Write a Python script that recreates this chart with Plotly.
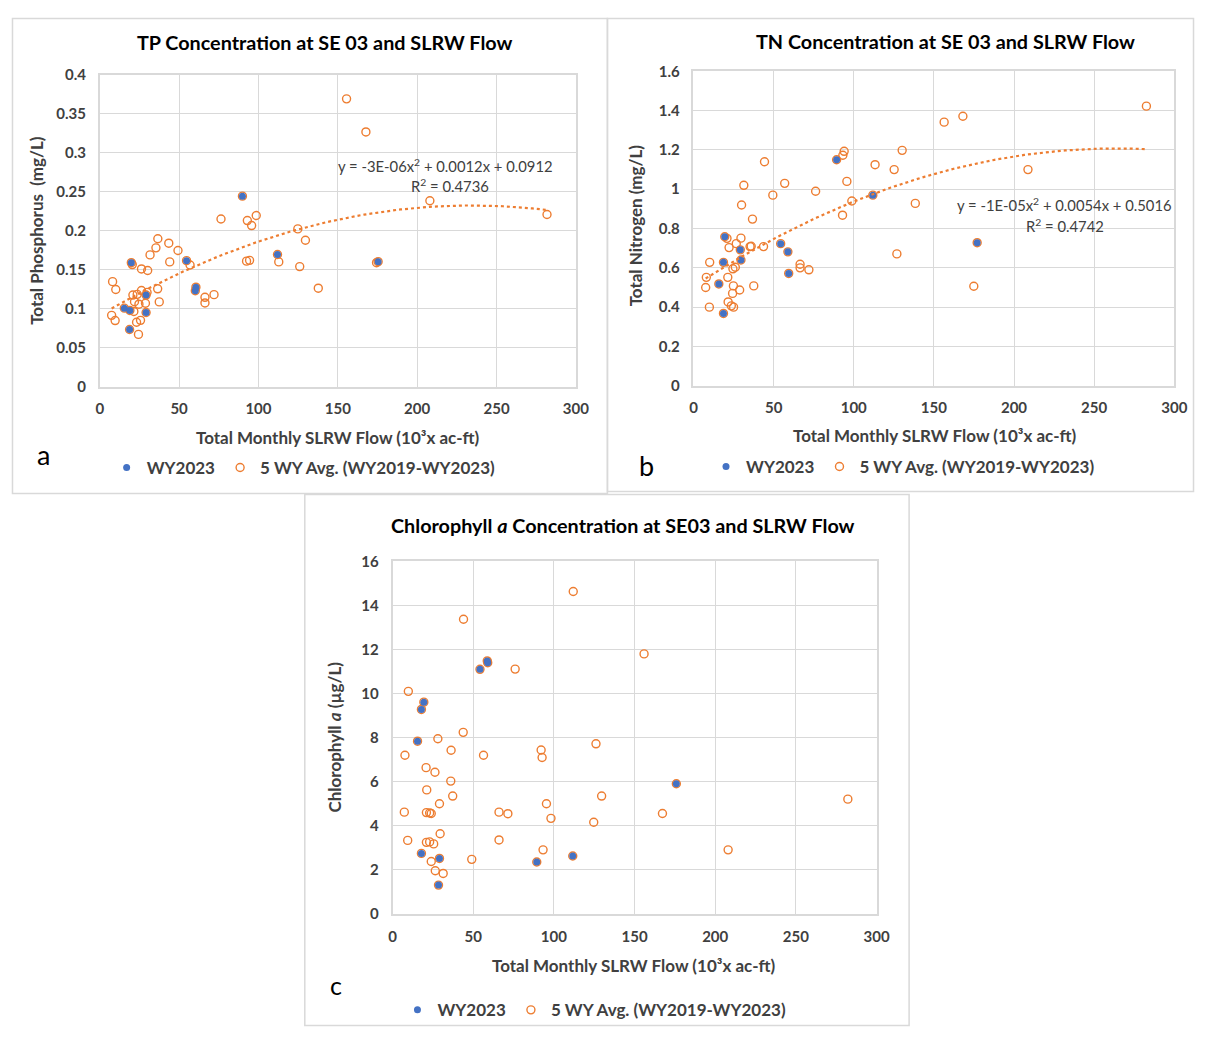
import numpy as np
import plotly.graph_objects as go

# The page has an 8px body margin; the figure is sized so the page fits the window exactly.
OFF = 8
W, H = 1215 - 2 * OFF, 1042 - 2 * OFF
def px(x): return (x - OFF) / W
def py(y): return 1 - (y - OFF) / H

# ---------------- Data ----------------
# Panel a: TP (mg/L)
tp_wy23_flow = [15.5, 18.8, 19.0, 19.9, 29.2, 29.2, 54.7, 60.2, 60.6, 89.9, 112.0, 175.4]
tp_wy23 = [0.1007, 0.0734, 0.0978, 0.159, 0.0952, 0.1175, 0.1616, 0.123, 0.1276, 0.2443, 0.1695, 0.1603]
tp_5wy_flow = [155.5, 167.7, 208.0, 281.8, 175.4, 174.4, 76.4, 93.0, 95.7, 98.6, 124.8, 129.6,
               36.6, 35.4, 43.5, 49.3, 31.7, 44.1, 19.9, 20.5, 26.3, 30.2, 54.7, 56.9,
               92.5, 94.4, 112.0, 112.8, 126.0, 137.7, 60.6, 60.2, 66.3, 66.3, 72.0,
               8.1, 10.1, 7.5, 9.7, 15.5, 19.0, 18.8, 24.4, 23.2, 25.7, 29.2, 29.2,
               20.9, 23.6, 26.3, 29.8, 21.9, 24.7, 28.8, 36.5, 37.5, 21.5, 89.9]
tp_5wy = [0.369, 0.3266, 0.2384, 0.2208, 0.1603, 0.159, 0.215, 0.213, 0.2066, 0.2195, 0.2023, 0.1877,
          0.1897, 0.178, 0.184, 0.1746, 0.169, 0.16, 0.159, 0.1566, 0.151, 0.149, 0.1616, 0.156,
          0.161, 0.162, 0.1695, 0.16, 0.154, 0.1263, 0.1276, 0.123, 0.1146, 0.1074, 0.118,
          0.1347, 0.1246, 0.0915, 0.0848, 0.1007, 0.0978, 0.0734, 0.0671, 0.0826, 0.0851, 0.0952, 0.1175,
          0.1175, 0.1184, 0.1234, 0.121, 0.109, 0.1058, 0.107, 0.1255, 0.1087, 0.0965, 0.2443]

# Panel b: TN (mg/L)
tn_wy23_flow = [15.8, 18.7, 18.7, 19.5, 29.2, 29.6, 54.4, 58.9, 59.4, 89.3, 111.9, 177.0]
tn_wy23 = [0.518, 0.368, 0.628, 0.758, 0.6915, 0.64, 0.723, 0.6815, 0.5715, 1.15, 0.97, 0.728]
tn_5wy_flow = [44.3, 94.0, 93.2, 89.3, 130.2, 113.3, 125.2, 31.4, 56.9, 49.5, 76.2, 95.7, 98.8, 93.0,
               138.4, 30.0, 36.8, 111.9, 19.5, 20.9, 29.6, 22.2, 26.7, 35.3, 36.0, 43.7, 126.9,
               54.4, 58.9, 29.2, 29.6, 18.7, 10.1, 24.6, 26.1, 66.5, 66.5, 72.0, 8.0, 21.4, 7.6,
               24.9, 28.8, 37.6, 24.4, 21.6, 23.6, 25.0, 9.9, 15.8, 18.7, 59.4, 156.4, 168.1,
               282.6, 208.7, 174.9, 177.0]
tn_5wy = [1.14, 1.193, 1.173, 1.15, 1.198, 1.125, 1.10, 1.02, 1.03, 0.97, 0.99, 1.04, 0.94, 0.868,
          0.928, 0.92, 0.848, 0.97, 0.758, 0.75, 0.751, 0.703, 0.723, 0.708, 0.71, 0.708, 0.671,
          0.723, 0.6815, 0.6915, 0.64, 0.628, 0.628, 0.595, 0.603, 0.618, 0.60, 0.59, 0.5515, 0.5515, 0.50,
          0.508, 0.487, 0.508, 0.47, 0.4265, 0.4065, 0.40, 0.40, 0.518, 0.368, 0.5715, 1.3415, 1.3715,
          1.423, 1.10, 0.5065, 0.728]

# Panel c: Chlorophyll a (ug/L)
chl_wy23_flow = [15.5, 17.9, 17.9, 19.4, 28.5, 29.1, 54.2, 58.7, 59.0, 89.4, 111.7, 175.9]
chl_wy23 = [7.84, 2.75, 9.28, 9.61, 1.31, 2.52, 11.1, 11.48, 11.4, 2.36, 2.63, 5.91]
chl_5wy_flow = [44.0, 112.0, 76.0, 9.8, 58.7, 59.0, 54.2, 19.4, 17.9, 43.8, 28.1, 15.5, 36.3, 7.7,
                56.4, 92.1, 92.7, 20.8, 26.3, 36.1, 21.2, 37.3, 29.1, 95.4, 7.3, 21.0, 23.0, 24.0,
                66.0, 71.5, 98.2, 29.5, 9.4, 66.0, 21.0, 23.0, 25.5, 93.3, 24.0, 49.1, 26.5, 31.4,
                17.9, 29.1, 28.5, 89.4, 111.7, 175.9, 155.9, 126.1, 129.6, 124.7, 167.3, 282.2, 208.0]
chl_5wy = [13.37, 14.63, 11.11, 10.1, 11.48, 11.4, 11.1, 9.61, 9.28, 8.24, 7.95, 7.84, 7.43, 7.2,
           7.2, 7.44, 7.1, 6.64, 6.43, 6.03, 5.63, 5.35, 5.0, 5.0, 4.62, 4.6, 4.58, 4.56,
           4.62, 4.55, 4.34, 3.64, 3.34, 3.36, 3.25, 3.27, 3.18, 2.91, 2.38, 2.48, 1.96, 1.84,
           2.75, 2.52, 1.31, 2.36, 2.63, 5.91, 11.8, 7.72, 5.35, 4.16, 4.56, 5.21, 2.91]

BLUE = '#4472C4'
ORANGE = '#ED7D31'
GRID = '#D9D9D9'
TXT = '#404040'
FONT = 'Lato'

fig = go.Figure()

def add_panel(n, fx, fy, wx, wy, legend_name, trend):
    xa = 'x' if n == 1 else f'x{n}'
    ya = 'y' if n == 1 else f'y{n}'
    fig.add_trace(go.Scatter(x=fx, y=fy, mode='markers', name='5 WY Avg. (WY2019-WY2023)',
                             xaxis=xa, yaxis=ya, legend=legend_name, legendrank=2,
                             marker=dict(symbol='circle-open', size=8, color=ORANGE,
                                         line=dict(width=1.4, color=ORANGE))))
    fig.add_trace(go.Scatter(x=wx, y=wy, mode='markers', name='WY2023',
                             xaxis=xa, yaxis=ya, legend=legend_name, legendrank=1,
                             marker=dict(symbol='circle', size=7, color=BLUE,
                                         line=dict(width=0))))
    if trend:
        coef = np.polyfit(fx, fy, 2)
        xs = np.linspace(min(fx), max(fx), 120)
        fig.add_trace(go.Scatter(x=xs, y=np.polyval(coef, xs), mode='lines', showlegend=False,
                                 xaxis=xa, yaxis=ya, hoverinfo='skip',
                                 line=dict(color=ORANGE, width=2.2, dash='dot')))

add_panel(1, tp_5wy_flow, tp_5wy, tp_wy23_flow, tp_wy23, 'legend', True)
add_panel(2, tn_5wy_flow, tn_5wy, tn_wy23_flow, tn_wy23, 'legend2', True)
add_panel(3, chl_5wy_flow, chl_5wy, chl_wy23_flow, chl_wy23, 'legend3', False)

def axis(domain, rng, dtick, anchor, x=True):
    d = dict(domain=domain, range=rng, dtick=dtick, tick0=0, anchor=anchor,
             showgrid=True, gridcolor=GRID, gridwidth=1.3,
             showline=True, linecolor=GRID, linewidth=1.5, mirror=True,
             zeroline=False, ticks='', fixedrange=True,
             tickfont=dict(family=FONT, size=15, color=TXT, weight='bold'))
    d['ticklabelstandoff'] = 8 if x else 9
    return d

# pixel boxes of plot areas (window pixels)
A = (97, 580, 65.7, 383.3)
B = (699.3, 1187, 62.3, 382.3)
C = (394, 885, 561, 920)

def dom(box):
    x0, x1, y0, y1 = box
    return [px(x0), px(x1)], [py(y1), py(y0)]

ax_a, ay_a = dom(A)
ax_b, ay_b = dom(B)
ax_c, ay_c = dom(C)

layout = dict(
    width=W, height=H, margin=dict(l=0, r=0, t=0, b=0, pad=0),
    paper_bgcolor='white', plot_bgcolor='white', showlegend=True,
    xaxis=axis(ax_a, [0, 300], 50, 'y'),
    yaxis=axis(ay_a, [0, 0.4], 0.05, 'x', False),
    xaxis2=axis(ax_b, [0, 300], 50, 'y2'),
    yaxis2=axis(ay_b, [0, 1.6], 0.2, 'x2', False),
    xaxis3=axis(ax_c, [0, 300], 50, 'y3'),
    yaxis3=axis(ay_c, [0, 16], 2, 'x3', False),
)

def leg(xp, yp):
    return dict(orientation='h', x=px(xp), y=py(yp), xanchor='left', yanchor='middle',
                font=dict(family=FONT, size=17, color=TXT, weight='bold'),
                bgcolor='rgba(0,0,0,0)', itemwidth=30, traceorder='normal')

layout['legend'] = leg(104, 466)
layout['legend2'] = leg(712, 465)
layout['legend3'] = leg(399, 1018)
fig.update_layout(**layout)

# panel borders (clamped to the drawable area)
def cx(v): return min(max(px(v), 0.5 / W), 1 - 0.5 / W)
def cy(v): return min(max(py(v), 0.5 / H), 1 - 0.5 / H)
for (x0, y0, x1, y1) in [(4, 5, 612, 492), (612, 1, 1214, 490), (305, 493, 918, 1041)]:
    fig.add_shape(type='rect', xref='paper', yref='paper', x0=cx(x0), x1=cx(x1), y0=cy(y1), y1=cy(y0),
                  line=dict(color=GRID, width=1.5), fillcolor='rgba(0,0,0,0)', layer='below')

def note(text, x, y, size, bold=False, angle=0, color='#000000'):
    fig.add_annotation(text=text, x=px(x), y=py(y), xref='paper', yref='paper', showarrow=False,
                       xanchor='center', yanchor='middle', textangle=angle,
                       font=dict(family=FONT, size=size, color=color, weight='bold' if bold else 'normal'))

# titles
note('TP Concentration at SE 03 and SLRW Flow', 325, 32, 19.8, True)
note('TN Concentration at SE 03 and SLRW Flow', 955, 31, 19.8, True)
note('Chlorophyll <i>a</i> Concentration at SE03 and SLRW Flow', 628, 524, 19.8, True)

# axis titles
note('Total Monthly SLRW Flow (10³x ac-ft)', 339, 435, 17, True, color=TXT)
note('Total Monthly SLRW Flow (10³x ac-ft)', 944, 433, 17, True, color=TXT)
note('Total Monthly SLRW Flow (10³x ac-ft)', 639, 972, 17, True, color=TXT)
note('Total Phosphorus  (mg/L)', 33, 224, 17, True, -90, TXT)
note('Total Nitrogen (mg/L)', 640, 219, 17, True, -90, TXT)
note('Chlorophyll <i>a</i> (µg/L)', 335, 740, 17, True, -90, TXT)

# trendline equations
note('y = -3E-06x<sup>2</sup> + 0.0012x + 0.0912', 448, 158, 14.8, color=TXT)
note('R<sup>2</sup> = 0.4736', 452, 179, 14.8, color=TXT)
note('y = -1E-05x<sup>2</sup> + 0.0054x + 0.5016', 1076, 198, 14.8, color=TXT)
note('R<sup>2</sup> = 0.4742', 1076, 219, 14.8, color=TXT)

# panel letters
note('a', 40, 452, 27)
note('b', 652, 463, 27)
note('c', 337, 992, 25)

fig.write_html('out.html', config={'displayModeBar': False})
